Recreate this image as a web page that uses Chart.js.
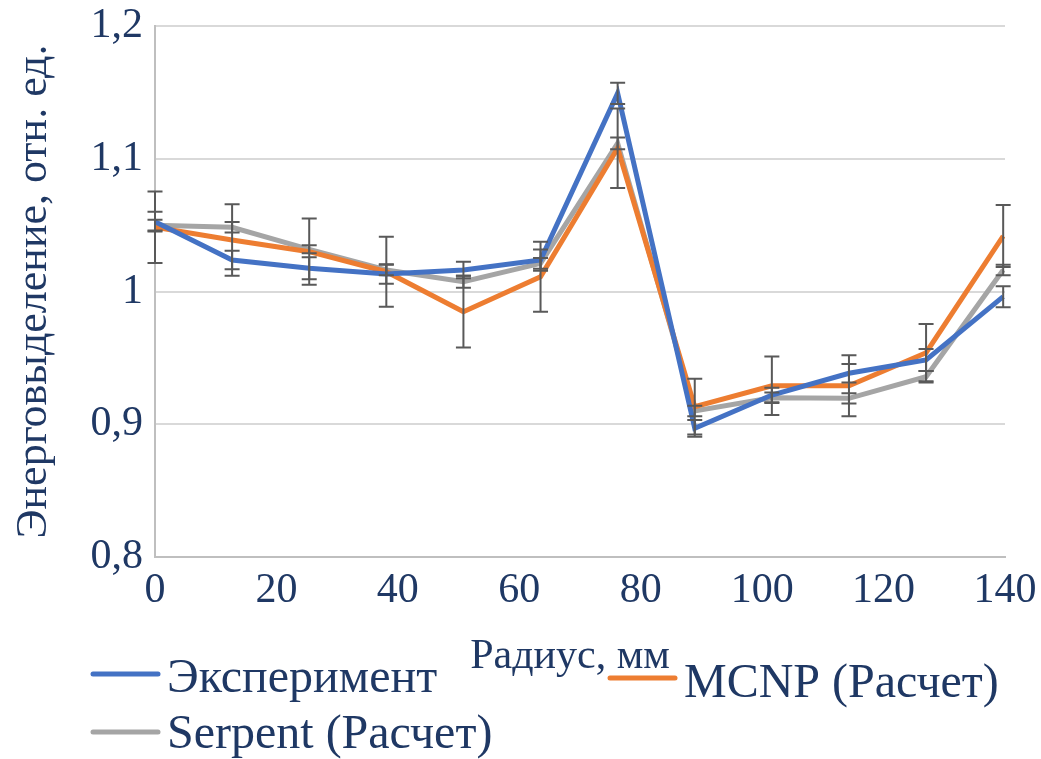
<!DOCTYPE html>
<html>
<head>
<meta charset="utf-8">
<script src="https://cdn.jsdelivr.net/npm/chart.js@4.4.1/dist/chart.umd.min.js"></script>
<style>
  html, body { margin: 0; padding: 0; background: #ffffff; }
  #wrap { width: 1041px; height: 759px; position: relative; }
</style>
</head>
<body>
<div id="wrap"><canvas id="c" width="1041" height="759"></canvas></div>
<script>
// ---- data ----
const radius = [0, 12.7, 25.4, 38.1, 50.8, 63.5, 76.2, 88.9, 101.6, 114.3, 127, 139.7];
const experiment = [1.0526, 1.0237, 1.0175, 1.0132, 1.0162, 1.0237, 1.1493, 0.8969, 0.922, 0.9384, 0.9484, 0.9961];
const mcnp       = [1.0484, 1.0388, 1.0300, 1.0149, 0.9848, 1.0111, 1.1079, 0.9132, 0.929, 0.929, 0.9539, 1.0418];
const serpent    = [1.0500, 1.0484, 1.0318, 1.0162, 1.0074, 1.0212, 1.1116, 0.9100, 0.920, 0.9195, 0.9358, 1.0162];
const errExperiment = [0.0074, 0.007, 0.0083, 0.0073, 0.0063, 0.008, 0.008, 0.0063, 0.0055, 0.0069, 0.0082, 0.0079];
const errMcnp       = [0.027, 0.027, 0.025, 0.0264, 0.027, 0.0264, 0.030, 0.021, 0.022, 0.023, 0.0216, 0.0234];
const errSerpent    = [0.004, 0.004, 0.003, 0.004, 0.0045, 0.004, 0.0044, 0.004, 0.004, 0.0038, 0.0044, 0.004];
const seriesNames = ['Эксперимент', 'MCNP (Расчет)', 'Serpent (Расчет)'];
const xTitle = 'Радиус, мм';
const yTitle = 'Энерговыделение, отн. ед.';

const FONT = "'Liberation Serif', 'Times New Roman', serif";
const TEXT = '#1F3864';
const colors = ['#4472C4', '#ED7D31', '#A5A5A5'];

function pts(vals) { return radius.map((r, i) => ({ x: r, y: vals[i] })); }

const errorBars = {
  id: 'errorBars',
  afterDatasetsDraw(chart) {
    const ctx = chart.ctx;
    const xs = chart.scales.x, ys = chart.scales.y;
    ctx.save();
    ctx.strokeStyle = '#595959';
    ctx.lineWidth = 2;
    chart.data.datasets.forEach(ds => {
      ds.data.forEach((p, i) => {
        const e = ds.errors[i];
        const px = xs.getPixelForValue(p.x);
        const y1 = ys.getPixelForValue(p.y + e);
        const y2 = ys.getPixelForValue(p.y - e);
        ctx.beginPath();
        ctx.moveTo(px, y1); ctx.lineTo(px, y2);
        ctx.moveTo(px - 7.5, y1); ctx.lineTo(px + 7.5, y1);
        ctx.moveTo(px - 7.5, y2); ctx.lineTo(px + 7.5, y2);
        ctx.stroke();
      });
    });
    ctx.restore();
  }
};

const extras = {
  id: 'extras',
  afterDraw(chart) {
    const ctx = chart.ctx;
    ctx.save();
    ctx.fillStyle = TEXT;
    ctx.textBaseline = 'alphabetic';
    // x axis title
    ctx.font = '42px ' + FONT;
    ctx.textAlign = 'center';
    ctx.fillText(xTitle, 570, 668);
    // legend
    const items = [
      { c: colors[0], x: 93, ly: 674, ty: 692, t: seriesNames[0] },
      { c: colors[1], x: 610, ly: 678, ty: 697, t: seriesNames[1] },
      { c: colors[2], x: 93, ly: 732, ty: 748, t: seriesNames[2] }
    ];
    ctx.font = '48px ' + FONT;
    ctx.textAlign = 'left';
    items.forEach(it => {
      ctx.strokeStyle = it.c;
      ctx.lineWidth = 5;
      ctx.lineCap = 'round';
      ctx.beginPath();
      ctx.moveTo(it.x, it.ly); ctx.lineTo(it.x + 65, it.ly);
      ctx.stroke();
      ctx.fillText(it.t, it.x + 74, it.ty);
    });
    ctx.restore();
  }
};

function noPad(s) { s.paddingTop = 0; s.paddingBottom = 0; s.paddingLeft = 0; s.paddingRight = 0; }

new Chart(document.getElementById('c'), {
  type: 'line',
  data: {
    datasets: [
      { label: seriesNames[0], data: pts(experiment), errors: errExperiment, borderColor: colors[0], order: 0 },
      { label: seriesNames[1], data: pts(mcnp), errors: errMcnp, borderColor: colors[1], order: 1 },
      { label: seriesNames[2], data: pts(serpent), errors: errSerpent, borderColor: colors[2], order: 2 }
    ].map(d => Object.assign(d, { borderWidth: 5, pointRadius: 0, tension: 0, fill: false }))
  },
  options: {
    responsive: false,
    animation: false,
    devicePixelRatio: 1,
    layout: { padding: { left: 0, right: 36, top: 26, bottom: 0 } },
    plugins: { legend: { display: false }, tooltip: { enabled: false }, title: { display: false } },
    scales: {
      x: {
        type: 'linear', min: 0, max: 140,
        ticks: { stepSize: 20, color: TEXT, font: { family: FONT, size: 42 }, padding: 9, maxRotation: 0 },
        grid: { display: false, drawTicks: false },
        border: { display: true, color: '#BFBFBF', width: 2 },
        afterFit(s) { s.height = 202; noPad(s); }
      },
      y: {
        min: 0.8, max: 1.2,
        ticks: {
          stepSize: 0.1, color: TEXT, font: { family: FONT, size: 42 }, padding: 12,
          callback: v => String(Number(v.toFixed(2))).replace('.', ',')
        },
        grid: { color: '#D9D9D9', lineWidth: 2, drawTicks: false },
        border: { display: true, color: '#BFBFBF', width: 2 },
        title: { display: true, text: yTitle, color: TEXT, font: { family: FONT, size: 44 }, padding: { top: 8, bottom: 0 } },
        afterFit(s) { s.width = 155; noPad(s); }
      }
    }
  },
  plugins: [errorBars, extras]
});
</script>
</body>
</html>
